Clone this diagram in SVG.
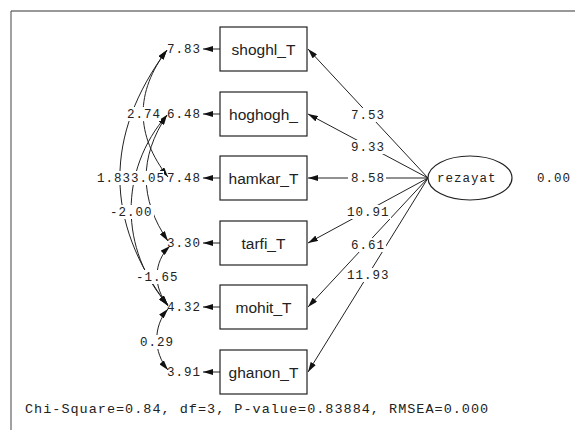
<svg xmlns="http://www.w3.org/2000/svg" width="575" height="430" viewBox="0 0 575 430">
<style>
.box{fill:#fff;stroke:#222;stroke-width:1.2}
.ell{fill:#fff;stroke:#222;stroke-width:1.2}
.nt{font-family:"Liberation Sans",Arial,sans-serif;font-size:15.5px;fill:#222;text-anchor:middle}
.lb{font-family:"Liberation Mono","Courier New",monospace;font-size:12.5px;letter-spacing:1px;fill:#222}
.ln{fill:none;stroke:#222;stroke-width:1}
.bg{fill:#fff}
</style>
<defs>
<marker id="ah" viewBox="0 0 10 6" refX="10" refY="3" markerWidth="10" markerHeight="6" markerUnits="userSpaceOnUse" orient="auto-start-reverse">
<path d="M0,0 L10,3 L0,6 Z" fill="#111"/>
</marker>
</defs>
<rect width="575" height="430" fill="#fff"/>
<g id="frame">
<line x1="11" y1="11" x2="575" y2="11" stroke="#777" stroke-width="1.6"/>
<line x1="11" y1="11" x2="11" y2="430" stroke="#444" stroke-width="1"/>
</g>
<g id="connectors">
<line class="ln" x1="428" y1="178" x2="308" y2="49" marker-end="url(#ah)"/>
<line class="ln" x1="428" y1="178" x2="308" y2="114" marker-end="url(#ah)"/>
<line class="ln" x1="428" y1="178" x2="308" y2="178" marker-end="url(#ah)"/>
<line class="ln" x1="428" y1="178" x2="308" y2="243" marker-end="url(#ah)"/>
<line class="ln" x1="428" y1="178" x2="308" y2="307" marker-end="url(#ah)"/>
<line class="ln" x1="428" y1="178" x2="308" y2="372" marker-end="url(#ah)"/>
<line class="ln" x1="220" y1="49" x2="203" y2="49" marker-end="url(#ah)"/>
<line class="ln" x1="220" y1="114" x2="203" y2="114" marker-end="url(#ah)"/>
<line class="ln" x1="220" y1="178" x2="203" y2="178" marker-end="url(#ah)"/>
<line class="ln" x1="220" y1="243" x2="203" y2="243" marker-end="url(#ah)"/>
<line class="ln" x1="220" y1="307" x2="203" y2="307" marker-end="url(#ah)"/>
<line class="ln" x1="220" y1="372" x2="203" y2="372" marker-end="url(#ah)"/>
<path class="ln" d="M167,50 C104,135 104,221 168,306" marker-start="url(#ah)" marker-end="url(#ah)"/>
<path class="ln" d="M167,50 C135,92 135,135 168,177" marker-start="url(#ah)" marker-end="url(#ah)"/>
<path class="ln" d="M167,115 C139,157 139,199 168,241" marker-start="url(#ah)" marker-end="url(#ah)"/>
<path class="ln" d="M167,115 C119,170 119,250 168,305" marker-start="url(#ah)" marker-end="url(#ah)"/>
<path class="ln" d="M170,246 C153,262 153,288 168,305" marker-start="url(#ah)" marker-end="url(#ah)"/>
<path class="ln" d="M168,309 C153,326 153,352 168,370" marker-start="url(#ah)" marker-end="url(#ah)"/>
</g>
<g id="labels">
<rect class="bg" x="348" y="108" width="38" height="14"/><text class="lb" x="351" y="119">7.53</text>
<rect class="bg" x="348" y="140" width="38" height="14"/><text class="lb" x="351" y="151">9.33</text>
<rect class="bg" x="348" y="171" width="38" height="14"/><text class="lb" x="351" y="182">8.58</text>
<rect class="bg" x="345" y="205" width="46" height="14"/><text class="lb" x="347" y="216">10.91</text>
<rect class="bg" x="348" y="238" width="38" height="14"/><text class="lb" x="351" y="249">6.61</text>
<rect class="bg" x="345" y="268" width="46" height="14"/><text class="lb" x="347" y="279">11.93</text>
<rect class="bg" x="125" y="107" width="36" height="14"/><text class="lb" x="127" y="118">2.74</text>
<rect class="bg" x="96" y="171" width="68" height="14"/><text class="lb" x="97" y="182">1.83</text><text class="lb" x="131" y="182">3.05</text>
<rect class="bg" x="108" y="205" width="46" height="14"/><text class="lb" x="110" y="216">-2.00</text>
<rect class="bg" x="134" y="270" width="46" height="14"/><text class="lb" x="136" y="281">-1.65</text>
<rect class="bg" x="138" y="335" width="38" height="14"/><text class="lb" x="140" y="346">0.29</text>
<text class="lb" x="167" y="53">7.83</text>
<text class="lb" x="167" y="118">6.48</text>
<text class="lb" x="167" y="182">7.48</text>
<text class="lb" x="167" y="247">3.30</text>
<text class="lb" x="167" y="311">4.32</text>
<text class="lb" x="167" y="376">3.91</text>
<text class="lb" x="537" y="182">0.00</text>
<text class="lb" x="25" y="413" style="font-size:13.5px;letter-spacing:1px">Chi-Square=0.84, df=3, P-value=0.83884, RMSEA=0.000</text>
</g>
<g id="shoghl_T"><rect class="box" x="220" y="27" width="87" height="44"/><text class="nt" x="263.5" y="54.5">shoghl_T</text></g>
<g id="hoghogh_"><rect class="box" x="220" y="92" width="87" height="44"/><text class="nt" x="263.5" y="119.5">hoghogh_</text></g>
<g id="hamkar_T"><rect class="box" x="220" y="156" width="87" height="44"/><text class="nt" x="263.5" y="183.5">hamkar_T</text></g>
<g id="tarfi_T"><rect class="box" x="220" y="221" width="87" height="44"/><text class="nt" x="263.5" y="248.5">tarfi_T</text></g>
<g id="mohit_T"><rect class="box" x="220" y="285" width="87" height="44"/><text class="nt" x="263.5" y="312.5">mohit_T</text></g>
<g id="ghanon_T"><rect class="box" x="220" y="350" width="87" height="44"/><text class="nt" x="263.5" y="377.5">ghanon_T</text></g>
<g id="rezayat"><ellipse class="ell" cx="470" cy="178" rx="42" ry="22"/><text class="lb" x="437" y="182">rezayat</text></g>
</svg>
